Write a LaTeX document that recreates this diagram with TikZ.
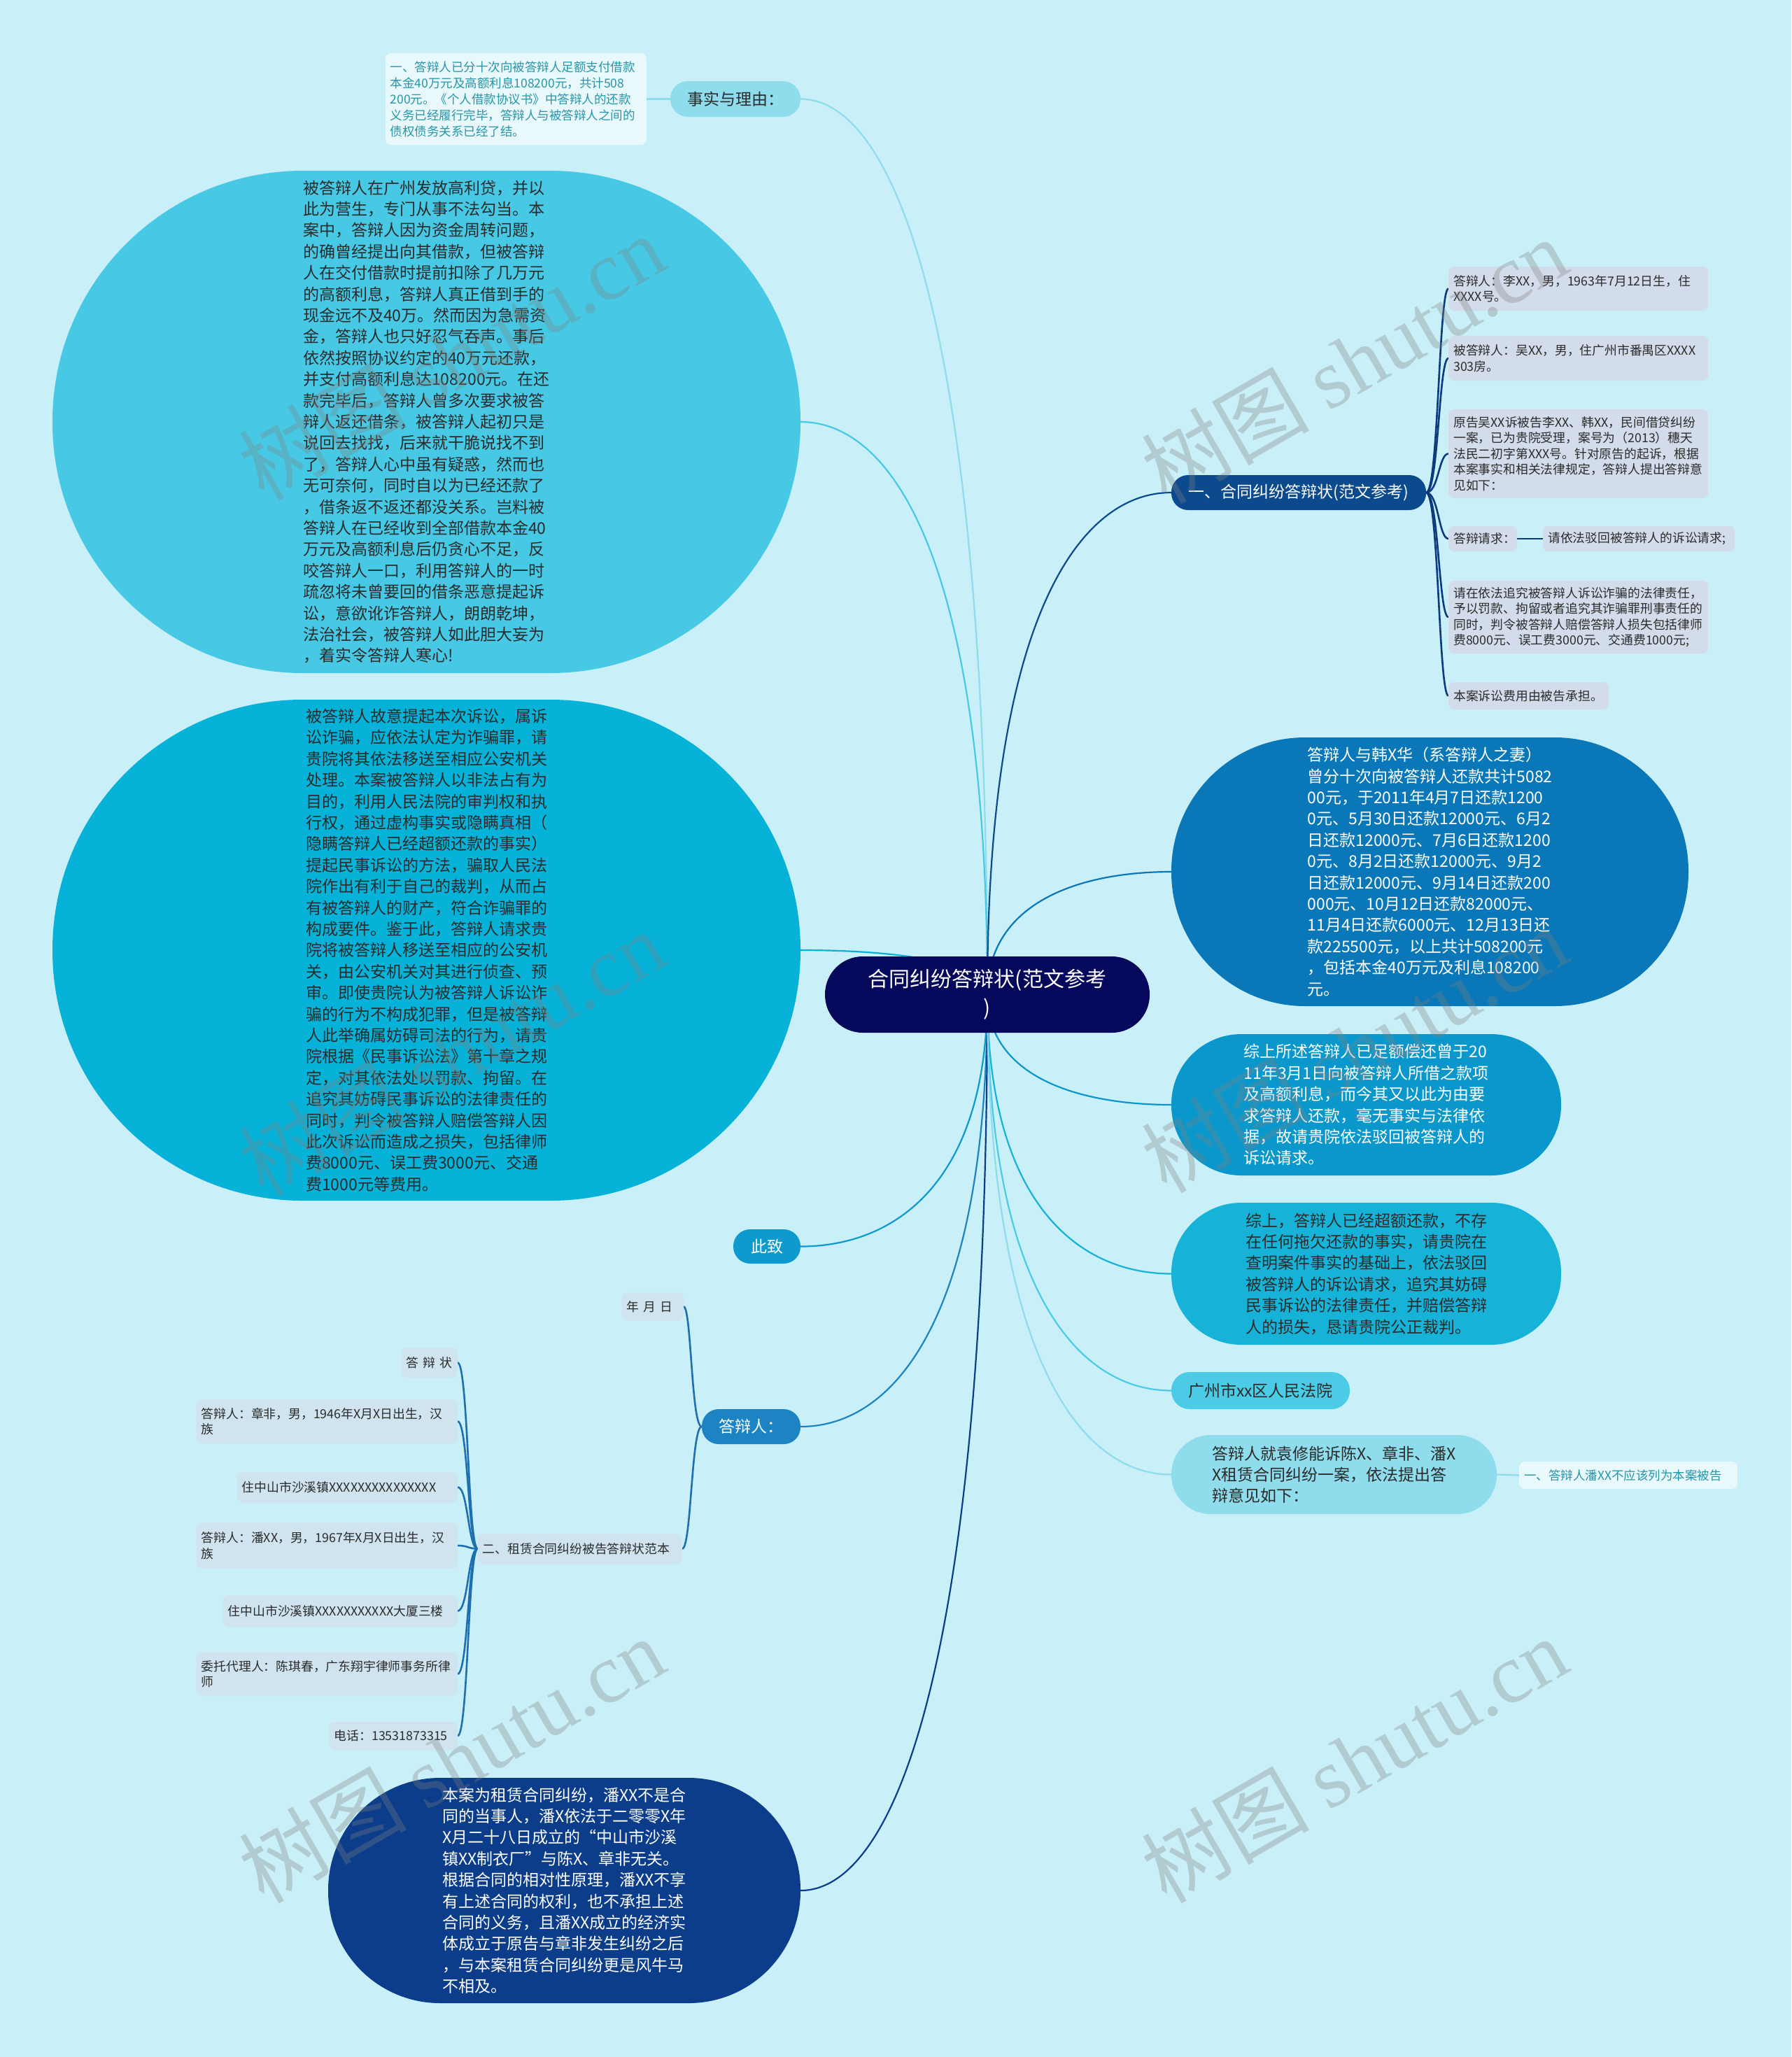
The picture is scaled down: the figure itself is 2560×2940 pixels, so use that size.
\documentclass[tikz,border=0pt]{standalone}
\usepackage{fontspec}
\setmainfont{Noto Sans CJK SC}
\newfontfamily\wmlatin{Liberation Serif}
\usetikzlibrary{calc}

\definecolor{bgc}{HTML}{C9EFF8}
\definecolor{rootc}{HTML}{06085C}
\definecolor{ca}{HTML}{8EDCEC}
\definecolor{cb}{HTML}{47C9E5}
\definecolor{cc}{HTML}{06B2D8}
\definecolor{cd}{HTML}{0E9ACD}
\definecolor{ce}{HTML}{1C84C2}
\definecolor{cf}{HTML}{0B3D8B}
\definecolor{cg}{HTML}{0C4A8E}
\definecolor{ch}{HTML}{0A78B8}
\definecolor{ci}{HTML}{0A98CC}
\definecolor{cj}{HTML}{16B2D7}
\definecolor{ck}{HTML}{4BCBE5}
\definecolor{leafR}{HTML}{D3DCEA}
\definecolor{leafL}{HTML}{CFE4EF}
\definecolor{factbg}{HTML}{E8F8FB}
\definecolor{tealtx}{HTML}{2596A9}
\definecolor{txt}{HTML}{2B2B2B}
\definecolor{lnR}{HTML}{0B3A7E}
\definecolor{lnL}{HTML}{1E6FB0}

\pgfdeclarelayer{back}
\pgfdeclarelayer{links}
\pgfdeclarelayer{fore}
\pgfsetlayers{back,links,main,fore}

\tikzset{
  big/.style={inner sep=0pt, align=left, font=\fontsize{23}{30.4}\selectfont},
  pill/.style={inner sep=0pt, align=center, font=\fontsize{23}{30.4}\selectfont},
  leaf/.style={inner xsep=7pt, inner ysep=0pt, rounded corners=8pt, align=left,
    text=txt, font=\fontsize{17.8}{22.5}\selectfont},
  rootbox/.style={fill=rootc, text=white, rounded corners=54pt, minimum width=464pt,
    minimum height=109pt, inner sep=0pt, align=center, font=\fontsize{30}{41}\selectfont},
  link/.style={line width=2.2pt},
  blink/.style={line width=2.6pt},
  wm/.style={rotate=30, text=gray, opacity=0.32, font=\fontsize{120}{120}\selectfont},
}

\newcommand\rootlink[2]{%
  \draw[link,#1] (root.center) .. controls ($(root.center)!0.75!(root.center |- #2)$)
    and ($(#2)!0.5!(root.center |- #2)$) .. (#2);}
\newcommand\brlink[4]{%
  \draw[blink,#1] (#2) .. controls (#4 |- #2) and (#4 |- #3) .. (#3);}

\begin{document}
\begin{tikzpicture}[x=1pt,y=-1pt]
\begin{pgfonlayer}{back}
\fill[bgc] (0,0) rectangle (2560,2940);
\end{pgfonlayer}
\useasboundingbox (0,0) rectangle (2560,2940);

% root
\node[rootbox] (root) at (1411,1421.5) {合同纠纷答辩状(范文参考\\)};

% ---------- left side ----------
\node[pill, fill=ca, text=txt, minimum width=186pt, minimum height=51pt, rounded corners=25pt] (facts) at (1051,141.5) {事实与理由：};
\node[leaf, fill=factbg, text=tealtx, anchor=east, text width=359pt, minimum height=131pt,
  font=\fontsize{17.5}{23}\selectfont] (factbox) at (924,141.5)
 {一、答辩人已分十次向被答辩人足额支付借款\\本金40万元及高额利息108200元，共计508\\200元。《个人借款协议书》中答辩人的还款\\义务已经履行完毕，答辩人与被答辩人之间的\\债权债务关系已经了结。};

\node[big, fill=cb, text=txt, minimum width=1069pt, minimum height=718pt, rounded corners=358pt] (e1) at (609.5,603)
 {被答辩人在广州发放高利贷，并以\\此为营生，专门从事不法勾当。本\\案中，答辩人因为资金周转问题，\\的确曾经提出向其借款，但被答辩\\人在交付借款时提前扣除了几万元\\的高额利息，答辩人真正借到手的\\现金远不及40万。然而因为急需资\\金，答辩人也只好忍气吞声。事后\\依然按照协议约定的40万元还款，\\并支付高额利息达108200元。在还\\款完毕后，答辩人曾多次要求被答\\辩人返还借条，被答辩人起初只是\\说回去找找，后来就干脆说找不到\\了，答辩人心中虽有疑惑，然而也\\无可奈何，同时自以为已经还款了\\，借条返不返还都没关系。岂料被\\答辩人在已经收到全部借款本金40\\万元及高额利息后仍贪心不足，反\\咬答辩人一口，利用答辩人的一时\\疏忽将未曾要回的借条恶意提起诉\\讼，意欲讹诈答辩人，朗朗乾坤，\\法治社会，被答辩人如此胆大妄为\\，着实令答辩人寒心!};

\node[big, fill=cc, text=txt, minimum width=1069pt, minimum height=716pt, rounded corners=357pt] (e2) at (609.5,1358)
 {被答辩人故意提起本次诉讼，属诉\\讼诈骗，应依法认定为诈骗罪，请\\贵院将其依法移送至相应公安机关\\处理。本案被答辩人以非法占有为\\目的，利用人民法院的审判权和执\\行权，通过虚构事实或隐瞒真相（\\隐瞒答辩人已经超额还款的事实）\\提起民事诉讼的方法，骗取人民法\\院作出有利于自己的裁判，从而占\\有被答辩人的财产，符合诈骗罪的\\构成要件。鉴于此，答辩人请求贵\\院将被答辩人移送至相应的公安机\\关，由公安机关对其进行侦查、预\\审。即使贵院认为被答辩人诉讼诈\\骗的行为不构成犯罪，但是被答辩\\人此举确属妨碍司法的行为，请贵\\院根据《民事诉讼法》第十章之规\\定，对其依法处以罚款、拘留。在\\追究其妨碍民事诉讼的法律责任的\\同时，判令被答辩人赔偿答辩人因\\此次诉讼而造成之损失，包括律师\\费8000元、误工费3000元、交通\\费1000元等费用。};

\node[pill, fill=cd, text=white, minimum width=96pt, minimum height=49pt, rounded corners=24pt] (cizhi) at (1096,1781.5) {此致};
\node[pill, fill=ce, text=white, minimum width=141pt, minimum height=50pt, rounded corners=24pt] (resp) at (1073.5,2039) {答辩人：};

\node[big, fill=cf, text=white, minimum width=675pt, minimum height=322pt, rounded corners=160pt] (e3) at (806.5,2702)
 {本案为租赁合同纠纷，潘XX不是合\\同的当事人，潘X依法于二零零X年\\X月二十八日成立的“中山市沙溪\\镇XX制衣厂”与陈X、章非无关。\\根据合同的相对性原理，潘XX不享\\有上述合同的权利，也不承担上述\\合同的义务，且潘XX成立的经济实\\体成立于原告与章非发生纠纷之后\\，与本案租赁合同纠纷更是风牛马\\不相及。};

% left sub tree
\node[leaf, fill=leafL, anchor=east, text width=74pt, minimum height=40pt] (ymd) at (977,1867.5) {年 月 日};
\node[leaf, fill=leafL, anchor=east, text width=278pt, minimum height=43pt] (zl) at (975,2213.5) {二、租赁合同纠纷被告答辩状范本};
\node[leaf, fill=leafL, anchor=east, text width=66pt, minimum height=43pt] (l1) at (654,1947.5) {答 辩 状};
\node[leaf, fill=leafL, anchor=east, text width=359pt, minimum height=63pt] (l2) at (654,2031.5) {答辩人：章非，男，1946年X月X日出生，汉\\族};
\node[leaf, fill=leafL, anchor=east, text width=301pt, minimum height=43pt] (l3) at (654,2125.5) {住中山市沙溪镇XXXXXXXXXXXXXXX};
\node[leaf, fill=leafL, anchor=east, text width=359pt, minimum height=66pt] (l4) at (654,2209) {答辩人：潘XX，男，1967年X月X日出生，汉\\族};
\node[leaf, fill=leafL, anchor=east, text width=321pt, minimum height=45pt] (l5) at (654,2302.5) {住中山市沙溪镇XXXXXXXXXXX大厦三楼};
\node[leaf, fill=leafL, anchor=east, text width=359pt, minimum height=63pt] (l6) at (654,2392.5) {委托代理人：陈琪春，广东翔宇律师事务所律\\师};
\node[leaf, fill=leafL, anchor=east, text width=169pt, minimum height=40pt] (l7) at (654,2481) {电话：13531873315};

% ---------- right side ----------
\node[pill, fill=cg, text=white, minimum width=364pt, minimum height=50pt, rounded corners=24pt] (h1) at (1856,704) {一、合同纠纷答辩状(范文参考)};
\node[leaf, fill=leafR, anchor=west, text width=357pt, minimum height=63pt] (r1) at (2070,412.5) {答辩人：李XX，男，1963年7月12日生，住\\XXXX号。};
\node[leaf, fill=leafR, anchor=west, text width=357pt, minimum height=64pt] (r2) at (2070,512) {被答辩人：吴XX，男，住广州市番禺区XXXX\\303房。};
\node[leaf, fill=leafR, anchor=west, text width=357pt, minimum height=127pt] (r3) at (2070,648.5) {原告吴XX诉被告李XX、韩XX，民间借贷纠纷\\一案，已为贵院受理，案号为（2013）穗天\\法民二初字第XXX号。针对原告的起诉，根据\\本案事实和相关法律规定，答辩人提出答辩意\\见如下：};
\node[leaf, fill=leafR, anchor=west, text width=84pt, minimum height=36pt] (r4) at (2070,770) {答辩请求：};
\node[leaf, fill=leafR, anchor=west, text width=260pt, minimum height=36pt] (r4b) at (2205,770) {请依法驳回被答辩人的诉讼请求;};
\node[leaf, fill=leafR, anchor=west, text width=357pt, minimum height=104pt] (r5) at (2070,882) {请在依法追究被答辩人诉讼诈骗的法律责任，\\予以罚款、拘留或者追究其诈骗罪刑事责任的\\同时，判令被答辩人赔偿答辩人损失包括律师\\费8000元、误工费3000元、交通费1000元;};
\node[leaf, fill=leafR, anchor=west, text width=215pt, minimum height=39pt] (r6) at (2070,994.5) {本案诉讼费用由被告承担。};

\node[big, fill=ch, text=white, minimum width=739pt, minimum height=384pt, rounded corners=191pt] (han) at (2043.5,1246)
 {答辩人与韩X华（系答辩人之妻）\\曾分十次向被答辩人还款共计5082\\00元，于2011年4月7日还款1200\\0元、5月30日还款12000元、6月2\\日还款12000元、7月6日还款1200\\0元、8月2日还款12000元、9月2\\日还款12000元、9月14日还款200\\000元、10月12日还款82000元、\\11月4日还款6000元、12月13日还\\款225500元，以上共计508200元\\，包括本金40万元及利息108200\\元。};

\node[big, fill=ci, text=white, minimum width=557pt, minimum height=202pt, rounded corners=100pt] (zs1) at (1952.5,1579)
 {综上所述答辩人已足额偿还曾于20\\11年3月1日向被答辩人所借之款项\\及高额利息，而今其又以此为由要\\求答辩人还款，毫无事实与法律依\\据，故请贵院依法驳回被答辩人的\\诉讼请求。};

\node[big, fill=cj, text=txt, minimum width=557pt, minimum height=203pt, rounded corners=100pt] (zs2) at (1952.5,1820.5)
 {综上，答辩人已经超额还款，不存\\在任何拖欠还款的事实，请贵院在\\查明案件事实的基础上，依法驳回\\被答辩人的诉讼请求，追究其妨碍\\民事诉讼的法律责任，并赔偿答辩\\人的损失，恳请贵院公正裁判。};

\node[pill, fill=ck, text=txt, minimum width=255pt, minimum height=53pt, rounded corners=26pt] (court) at (1801.5,1987.5) {广州市xx区人民法院};

\node[big, fill=ca, text=txt, minimum width=465pt, minimum height=113pt, rounded corners=56pt] (jiu) at (1906.5,2107.5)
 {答辩人就袁修能诉陈X、章非、潘X\\X租赁合同纠纷一案，依法提出答\\辩意见如下：};

\node[leaf, fill=factbg, text=tealtx, anchor=west, text width=298pt, minimum height=39pt,
  font=\fontsize{17.5}{22.5}\selectfont] (pan) at (2171,2108.5) {一、答辩人潘XX不应该列为本案被告};

% ---------- connectors ----------
\coordinate (bxR) at (2056,704);
\coordinate (bxA) at (988,2039);
\coordinate (bxB) at (669,2213.5);
\begin{pgfonlayer}{links}
\rootlink{ca}{facts.east}
\rootlink{cb}{e1.east}
\rootlink{cc}{e2.east}
\rootlink{cd}{cizhi.east}
\rootlink{ce}{resp.east}
\rootlink{cf}{e3.east}
\rootlink{cg}{h1.west}
\rootlink{ch}{han.west}
\rootlink{ci}{zs1.west}
\rootlink{cj}{zs2.west}
\rootlink{ck}{court.west}
\rootlink{ca}{jiu.west}
\draw[link,ca] (facts.west) -- (factbox.east);
\draw[link,ca] (jiu.east) -- (pan.west);
\foreach \n in {r1,r2,r3,r4,r5,r6} {\brlink{lnR}{h1.east}{\n.west}{bxR}}
\draw[blink,lnR] (r4.east) -- (r4b.west);
\brlink{lnL}{resp.west}{ymd.east}{bxA}
\brlink{lnL}{resp.west}{zl.east}{bxA}
\foreach \n in {l1,l2,l3,l4,l5,l6,l7} {\brlink{lnL}{zl.west}{\n.east}{bxB}}
\end{pgfonlayer}

% ---------- watermarks ----------
\begin{pgfonlayer}{fore}
\node[wm] (wm1) at (645,510) {树图 {\wmlatin shutu.cn}};
\node[wm] (wm2) at (1935,515) {树图 {\wmlatin shutu.cn}};
\node[wm] (wm3) at (645,1505) {树图 {\wmlatin shutu.cn}};
\node[wm] (wm4) at (1935,1500) {树图 {\wmlatin shutu.cn}};
\node[wm] (wm5) at (645,2515) {树图 {\wmlatin shutu.cn}};
\node[wm] (wm6) at (1935,2515) {树图 {\wmlatin shutu.cn}};
\end{pgfonlayer}
\end{tikzpicture}
\end{document}
